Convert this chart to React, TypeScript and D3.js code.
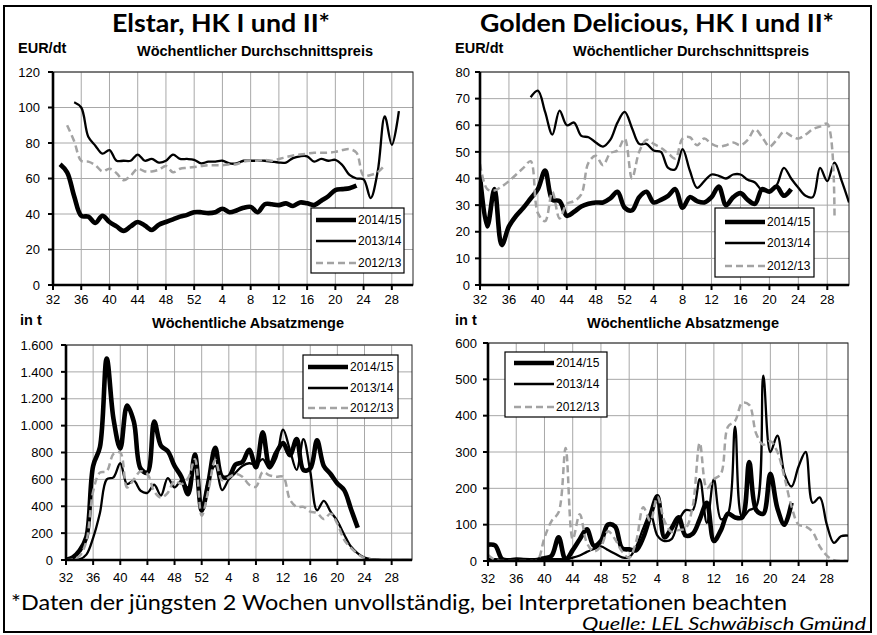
import * as d3 from 'd3'

// Kalenderwochen 32..52 und 1..31 (Wirtschaftsjahr)
const weeks = [
  32, 33, 34, 35, 36, 37, 38, 39, 40, 41, 42, 43, 44, 45, 46, 47, 48, 49, 50, 51, 52,
  1, 2, 3, 4, 5, 6, 7, 8, 9, 10, 11, 12, 13, 14, 15, 16, 17, 18, 19, 20, 21, 22, 23, 24, 25, 26, 27, 28, 29, 30, 31,
]
const xTickWeeks = [32, 36, 40, 44, 48, 52, 4, 8, 12, 16, 20, 24, 28]
const seasons = ['2014/15', '2013/14', '2012/13']

const N = null

// Elstar, Preis EUR/dt
const elstarPrice1415 = [
  N, 68, 63.5, 50, 39, 38.5, 35, 39, 35.5, 33, 30.5, 33, 35.5, 33.5, 31, 34, 35.5, 37, 38.5, 39.5, 41,
  41, 40.5, 41, 43, 41, 42, 43.5, 44, 41, 45.5, 45.5, 45, 46, 44.5, 46.5, 46, 45, 47.5, 50, 53.5, 54, 54.5, 56,
  N, N, N, N, N, N, N, N,
]
const elstarPrice1314 = [
  N, N, N, 103, 100, 83.5, 78.5, 74, 76, 70, 70, 70, 73.5, 70, 71, 69, 70, 73.5, 71, 71, 70.5,
  68.5, 69.5, 69.5, 70, 68.5, 68.5, 70, 70, 70, 70, 69.5, 69, 69, 71.5, 72.5, 72.5, 69.5, 71, 70, 70.5, 67.5, 62, 60,
  59.5, 49, 64, 95, 79, 98, N, N,
]
const elstarPrice1213 = [
  N, N, 90, 81, 70, 69.5, 67.5, 64, 65.5, 63, 59, 61.5, 65.5, 64, 64, 65, 67, 63.5, 65.5, 66, 66.5,
  67, 67.5, 67.5, 67.5, 68, 68, 69.5, 70, 70, 70.5, 70, 71, 72, 73, 73.5, 74, 74.5, 74.5, 74.5, 75, 76, 76.5, 74.5,
  61.5, 62, 63.5, 67.5, N, N, N, N,
]

// Golden Delicious, Preis EUR/dt
const goldenPrice1415 = [
  41, 22, 36, 15, 22, 26, 29, 32.5, 36, 43, 32, 31.5, 26, 27.5, 29.5, 30.5, 31, 31, 32.5, 35, 29,
  28, 33, 35, 31, 32, 33.5, 36, 29, 33, 31.5, 31, 33, 37, 30, 33, 34.5, 32, 30.5, 36, 35, 37, 33.5, 36,
  N, N, N, N, N, N, N, N,
]
const goldenPrice1314 = [
  N, N, N, N, N, N, N, 70.5, 73, 65, 56.5, 65.5, 60, 61, 56, 55.5, 53.5, 52, 54.5, 61, 65,
  59, 53, 53, 50.5, 50, 44, 43.5, 51, 43, 36.5, 39, 41.5, 41, 40, 41.5, 41.5, 39.5, 38.5, 35.5, 35.5, 37.5, 44, 40,
  36.5, 33.5, 33, 44, 39, 46, 39, 31,
]
const goldenPrice1213 = [
  45.5, 36, 35.5, 37, 39, 41.5, 44, 46.5, 27, 24, 35, 25, 30.5, 31.5, 34, 46, 48.5, 45, 49.5, 50.5, 55,
  40, 50, 54.5, 53, 51.5, 49.5, 47.5, 55, 55.5, 52.5, 55, 53, 52, 52.5, 53.5, 52.5, 54.5, 58.5, 55.5, 52, 54.5, 57.5, 56,
  55, 56.5, 58.5, 59.5, 60.5, 25, N, N,
]

// Elstar, Absatzmenge t
const elstarVol1415 = [
  0, 20, 70, 170, 700, 840, 1500, 1050, 830, 1150, 1030, 680, 650, 1030, 850, 810, 700, 620, 490, 785, 370,
  580, 835, 620, 620, 710, 730, 820, 690, 950, 700, 800, 870, 780, 900, 670, 680, 890, 700, 640, 570, 520, 380, 240,
  N, N, N, N, N, N, N, N,
]
const elstarVol1314 = [
  0, 0, 5, 40, 165, 350, 600, 615, 720, 565, 590, 515, 500, 560, 480, 610, 540, 590, 540, 740, 355,
  600, 700, 520, 600, 650, 700, 720, 710, 750, 680, 760, 970, 820, 670, 900, 660, 370, 440, 360, 290, 190, 100, 50,
  18, 6, 2, 0, 0, 0, 0, 0,
]
const elstarVol1213 = [
  0, 5, 30, 140, 510, 650, 660, 790, 800, 540, 600, 660, 640, 510, 465, 500, 590, 565, 610, 750, 330,
  520, 745, 595, 615, 640, 620, 560, 545, 655, 630, 620, 620, 450, 395, 395, 360, 350, 305, 345, 270, 150, 90, 45,
  15, 3, 0, 0, 0, 0, 0, 0,
]

// Golden Delicious, Absatzmenge t
const goldenVol1415 = [
  45, 43, 5, 2, 2, 2, 2, 3, 8, 14, 65, 3, 30, 60, 87, 42, 55, 100, 95, 35, 32,
  30, 65, 125, 178, 65, 90, 120, 70, 75, 115, 160, 55, 85, 130, 120, 120, 272, 140, 130, 240, 145, 100, 160,
  N, N, N, N, N, N, N, N,
]
const goldenVol1314 = [
  5, 5, 4, 5, 7, 6, 5, 4, 3, 5, 5, 5, 9, 15, 25, 33, 40, 30, 20, 10, 10,
  40, 90, 130, 70, 55, 60, 110, 140, 140, 225, 105, 225, 115, 130, 370, 120, 140, 150, 510, 300, 345, 240, 205,
  260, 300, 160, 175, 100, 50, 68, 70,
]
const goldenVol1213 = [
  17, 3, 0, 0, 0, 0, 0, 2, 64, 110, 134, 311, 60, 129, 50, 26, 40, 82, 60, 26, 9,
  55, 148, 110, 176, 110, 80, 85, 90, 150, 325, 200, 225, 240, 370, 385, 435, 430, 350, 320, 330, 300, 230, 150,
  100, 95, 80, 40, 15, 2, 0, 0,
]

const STYLES = [
  { stroke: '#000', width: 4.6, dash: undefined as string | undefined },
  { stroke: '#000', width: 2.3, dash: undefined as string | undefined },
  { stroke: '#a3a3a3', width: 2.5, dash: '7,4' },
]

const AXIS_FONT = '"Liberation Sans", Arial, sans-serif'
const TITLE_FONT = "Lato, 'Open Sans', sans-serif"
const deFmt = (v: number) => d3.format(',')(v).replace(/,/g, '.')

type Box = { l: number; t: number; r: number; b: number }
type LegendBox = { x: number; y: number; w: number; h: number; inset: number; rows: number[] }

function Panel(props: {
  id: string
  box: Box
  yMax: number
  yStep: number
  yFmt: (v: number) => string
  series: (number | null)[][]
  legend: LegendBox
  labelGap: number
  xLabelDy: number
}) {
  const { id, box, yMax, yStep, yFmt, series, legend, labelGap, xLabelDy } = props
  const x = d3.scalePoint<number>().domain(weeks).range([box.l, box.r])
  const y = d3.scaleLinear().domain([0, yMax]).range([box.b, box.t])
  const yTicks = d3.range(0, yMax + yStep / 2, yStep)

  const line = d3
    .line<number | null>()
    .defined((d) => d != null)
    .x((_, i) => x(weeks[i]) as number)
    .y((d) => y(d as number))
    .curve(d3.curveCatmullRom.alpha(0.5))

  return (
    <g>
      <defs>
        <clipPath id={id}>
          <rect x={box.l} y={box.t - 4} width={box.r - box.l} height={box.b - box.t + 4} />
        </clipPath>
      </defs>
      {/* grid */}
      {yTicks.slice(1).map((t) => (
        <line key={'h' + t} x1={box.l} x2={box.r} y1={y(t)} y2={y(t)} stroke="#a8a8a8" strokeWidth={1} />
      ))}
      {xTickWeeks.slice(1).map((w) => (
        <line key={'v' + w} x1={x(w)} x2={x(w)} y1={box.t} y2={box.b} stroke="#a8a8a8" strokeWidth={1} />
      ))}
      <rect x={box.l} y={box.t} width={box.r - box.l} height={box.b - box.t} fill="none" stroke="#222" strokeWidth={1} />

      {/* series */}
      <g clipPath={`url(#${id})`}>
        {series.map((s, k) => (
          <path
            key={k}
            d={line(s) || ''}
            fill="none"
            stroke={STYLES[k].stroke}
            strokeWidth={STYLES[k].width}
            strokeDasharray={STYLES[k].dash}
            strokeLinejoin="round"
          />
        ))}
      </g>

      {/* axes */}
      <line x1={box.l} x2={box.l} y1={box.t} y2={box.b + 1} stroke="#000" strokeWidth={2.6} />
      <line x1={box.l - 1} x2={box.r} y1={box.b} y2={box.b} stroke="#000" strokeWidth={2.6} />
      {yTicks.map((t) => (
        <g key={'yt' + t}>
          <line x1={box.l - 5} x2={box.l} y1={y(t)} y2={y(t)} stroke="#000" strokeWidth={2} />
          <text x={box.l - labelGap} y={y(t)} dy="0.36em" textAnchor="end" fontFamily={AXIS_FONT} fontSize={13}>
            {yFmt(t)}
          </text>
        </g>
      ))}
      {xTickWeeks.map((w) => (
        <g key={'xt' + w}>
          <line x1={x(w)} x2={x(w)} y1={box.b} y2={box.b + 5} stroke="#000" strokeWidth={2} />
          <text x={x(w)} y={box.b + xLabelDy} textAnchor="middle" fontFamily={AXIS_FONT} fontSize={13}>
            {w}
          </text>
        </g>
      ))}

      {/* legend */}
      <rect x={legend.x} y={legend.y} width={legend.w} height={legend.h} fill="#fff" stroke="#000" strokeWidth={1.2} />
      {seasons.map((s, k) => {
        const ly = legend.y + legend.rows[k]
        const x1 = legend.x + legend.inset
        return (
          <g key={s}>
            <line
              x1={x1}
              x2={x1 + 40}
              y1={ly}
              y2={ly}
              stroke={STYLES[k].stroke}
              strokeWidth={STYLES[k].width}
              strokeDasharray={STYLES[k].dash}
            />
            <text x={x1 + 42} y={ly} dy="0.36em" fontFamily={AXIS_FONT} fontSize={12}>
              {s}
            </text>
          </g>
        )
      })}
    </g>
  )
}

export default function App() {
  const bold = { fontFamily: AXIS_FONT, fontWeight: 700, fontSize: 14.5 }
  return (
    <svg width={877} height={635} style={{ position: 'absolute', left: 0, top: 0, background: '#fff' }}>
      <rect x={4} y={6} width={867} height={626} fill="#fff" stroke="#000" strokeWidth={2} />

      <text x={221} y={32} textAnchor="middle" fontFamily={TITLE_FONT} fontWeight={700} fontSize={25} textLength={218} lengthAdjust="spacingAndGlyphs">
        Elstar, HK I und II*
      </text>
      <text x={657} y={32} textAnchor="middle" fontFamily={TITLE_FONT} fontWeight={700} fontSize={25} textLength={354} lengthAdjust="spacingAndGlyphs">
        Golden Delicious, HK I und II*
      </text>

      <text x={18} y={53} {...bold}>EUR/dt</text>
      <text x={255} y={56} textAnchor="middle" {...bold}>Wöchentlicher Durchschnittspreis</text>
      <text x={455} y={53} {...bold}>EUR/dt</text>
      <text x={691} y={56} textAnchor="middle" {...bold}>Wöchentlicher Durchschnittspreis</text>

      <text x={20} y={325} {...bold}>in t</text>
      <text x={248} y={328} textAnchor="middle" {...bold}>Wöchentliche Absatzmenge</text>
      <text x={455} y={325} {...bold}>in t</text>
      <text x={683} y={328} textAnchor="middle" {...bold}>Wöchentliche Absatzmenge</text>

      <Panel
        id="c1"
        box={{ l: 53, t: 72, r: 413, b: 285 }}
        yMax={120}
        yStep={20}
        yFmt={(v) => String(v)}
        series={[elstarPrice1415, elstarPrice1314, elstarPrice1213]}
        legend={{ x: 311, y: 208, w: 93, h: 65, inset: 5, rows: [12, 33, 55] }}
        labelGap={13}
        xLabelDy={19}
      />
      <Panel
        id="c2"
        box={{ l: 480, t: 72, r: 849, b: 285 }}
        yMax={80}
        yStep={10}
        yFmt={(v) => String(v)}
        series={[goldenPrice1415, goldenPrice1314, goldenPrice1213]}
        legend={{ x: 715, y: 208, w: 99, h: 69, inset: 10, rows: [14, 35, 58] }}
        labelGap={10}
        xLabelDy={19}
      />
      <Panel
        id="c3"
        box={{ l: 66, t: 345, r: 412, b: 560 }}
        yMax={1600}
        yStep={200}
        yFmt={deFmt}
        series={[elstarVol1415, elstarVol1314, elstarVol1213]}
        legend={{ x: 303, y: 355, w: 95, h: 63, inset: 5, rows: [12, 33, 53] }}
        labelGap={13}
        xLabelDy={22}
      />
      <Panel
        id="c4"
        box={{ l: 488, t: 343, r: 848, b: 561 }}
        yMax={600}
        yStep={100}
        yFmt={deFmt}
        series={[goldenVol1415, goldenVol1314, goldenVol1213]}
        legend={{ x: 505, y: 352, w: 102, h: 65, inset: 9, rows: [11, 32, 55] }}
        labelGap={11}
        xLabelDy={22}
      />

      <text x={11} y={610} fontFamily={TITLE_FONT} fontSize={21} textLength={776} lengthAdjust="spacingAndGlyphs">
        *Daten der jüngsten 2 Wochen unvollständig, bei Interpretationen beachten
      </text>
      <text x={866} y={630} textAnchor="end" fontFamily={TITLE_FONT} fontStyle="italic" fontSize={18} textLength={284} lengthAdjust="spacingAndGlyphs">
        Quelle: LEL Schwäbisch Gmünd
      </text>
    </svg>
  )
}
